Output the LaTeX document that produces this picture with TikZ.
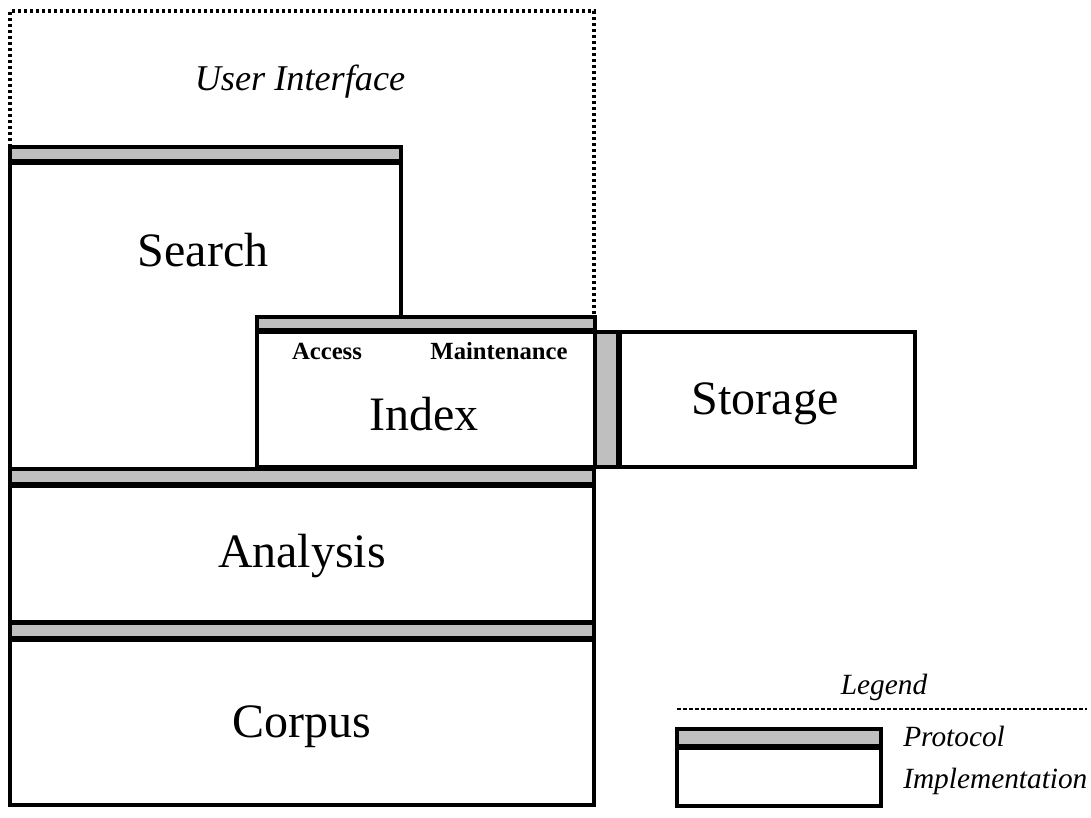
\documentclass[tikz,border=0pt]{standalone}
\usepackage{fontspec}
\setmainfont{Liberation Serif}
\begin{document}
\begin{tikzpicture}[x=0.75pt,y=-0.75pt,
  proto/.style={draw, line width=3.4pt, fill=black!25},
  impl/.style={draw, line width=3.4pt, fill=white},
  big/.style={anchor=base, font=\fontsize{36}{40}\selectfont},
  note/.style={anchor=base, inner sep=0pt, font=\fontsize{22}{26}\selectfont\itshape},
  sub/.style={anchor=base, font=\fontsize{18.5}{22}\selectfont\bfseries}]
  \useasboundingbox (0,0) rectangle (1091,817);

  % user interface frame
  \draw[line width=2.5pt, dash pattern=on 2.5pt off 2pt]
    (10,147) -- (10,11) -- (594,11) -- (594,318);
  \node[anchor=base, font=\fontsize{27.2}{30}\selectfont\itshape] (ui) at (300,90) {User Interface};

  % search
  \draw[impl] (10,163) -- (401,163) -- (401,318) -- (257,318) -- (257,469) -- (10,469) -- cycle;
  \draw[proto] (10,147) rectangle (401,161.5);
  \node[big] (search) at (203,266) {Search};

  % index
  \draw[impl] (257,332) rectangle (595,467);
  \draw[proto] (257,317) rectangle (595,330.5);
  \node[sub] (access) at (327,359) {Access};
  \node[sub] (maint) at (499,359) {Maintenance};
  \node[big] (index) at (424,430) {Index};

  % storage
  \draw[proto] (595,332) rectangle (618.5,467);
  \draw[impl] (620,332) rectangle (915,467);
  \node[big] (storage) at (765,414) {Storage};

  % analysis
  \draw[impl] (10,485.5) rectangle (594,622);
  \draw[proto] (10,469) rectangle (594,484);
  \node[big] (analysis) at (302,567) {Analysis};

  % corpus
  \draw[impl] (10,639.5) rectangle (594,805);
  \draw[proto] (10,623) rectangle (594,638);
  \node[big] (corpus) at (302,737) {Corpus};

  % legend
  \node[note] (legend) at (884,694) {Legend};
  \draw[line width=2pt, dash pattern=on 3pt off 1.5pt] (677,709) -- (1087,709);
  \draw[impl] (677,748) rectangle (881,806);
  \draw[proto] (677,729) rectangle (881,746.5);
  \node[note, anchor=base west] (lproto) at (903,746) {Protocol};
  \node[note, anchor=base west] (limpl) at (903,788) {Implementation};
\end{tikzpicture}
\end{document}
